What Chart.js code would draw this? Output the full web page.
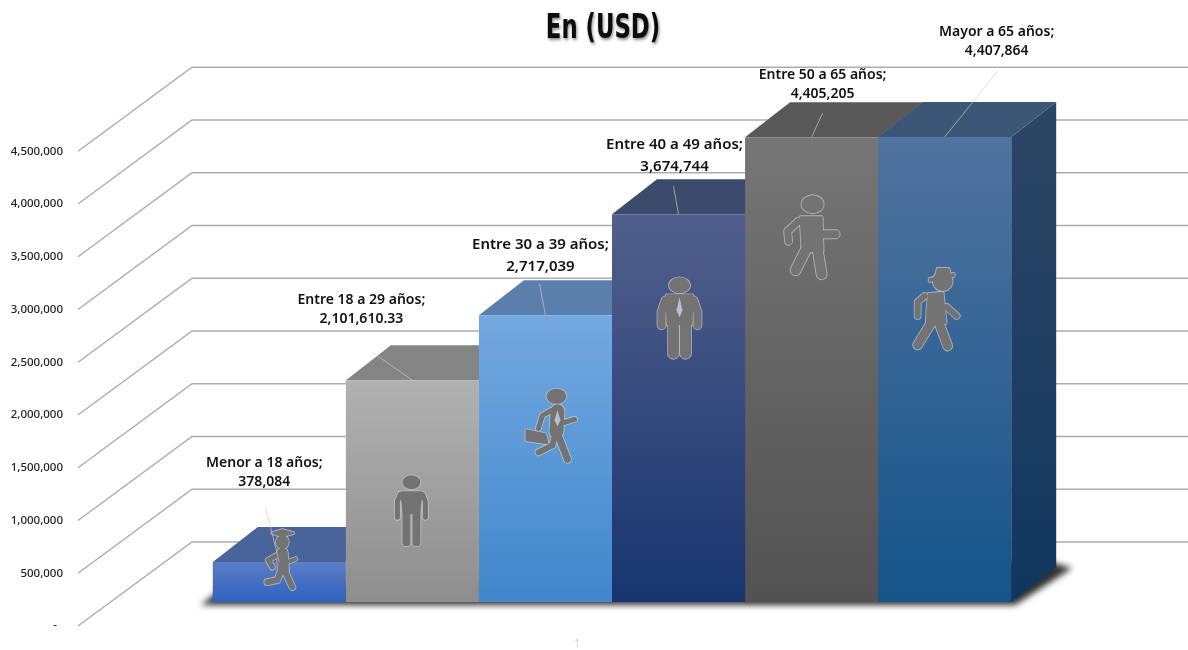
<!DOCTYPE html>
<html lang="es">
<head>
<meta charset="utf-8">
<title>En (USD)</title>
<script src="https://cdn.jsdelivr.net/npm/chart.js@4"></script>
<style>
  html, body { margin: 0; background: #fff; }
  canvas { display: block; }
</style>
</head>
<body>
<canvas id="chart" width="1188" height="650"></canvas>
<script>
const chartTitle = "En (USD)";
const categories = ["1"];
const seriesNames = ["Menor a 18 años", "Entre 18 a 29 años", "Entre 30 a 39 años", "Entre 40 a 49 años", "Entre 50 a 65 años", "Mayor a 65 años"];
const seriesValues = [378084, 2101610.33, 2717039, 3674744, 4405205, 4407864];
const yTickValues = [0, 500000, 1000000, 1500000, 2000000, 2500000, 3000000, 3500000, 4000000, 4500000];
const yTickLabels = ["-  ", "500,000", "1,000,000", "1,500,000", "2,000,000", "2,500,000", "3,000,000", "3,500,000", "4,000,000", "4,500,000"];

// front gradient top/bottom, top face, side top/bottom
const frontTop = ["#5c7dc6", "#b1b1b1", "#74a8e0", "#525f8c", "#767676", "#50739f"];
const frontBottom = ["#2e62bd", "#8e8e8e", "#4087cb", "#18356f", "#525252", "#15548a"];
const topFace = ["#49639b", "#848484", "#5a7fad", "#3c4a6c", "#585858", "#3c5678"];
const sideTop = ["#2c4a86", "#6f6f6f", "#3f6a9e", "#26345c", "#454545", "#2d4665"];
const sideBottom = ["#1e4a92", "#5f5f5f", "#2f6aa8", "#122a58", "#3a3a3a", "#10375f"];

// data label placement, relative to the centre of each bar's top edge
const labelDx = [-15, -51, -5, -4, 11, 52];
const labelDy = [-99, -80, -71, -70, -62, -105];
const labelSize = [14, 14, 15, 15, 14, 14];
const leaderDx = [-14, -40, -6, -5, 11, 53];
const leaderDy = [-55, -28, -32, -28, -24, -66];
const iconDx = [2, -1, 6, 1, 0, -8];
const iconDy = [-2, 130, 110, 104, 100, 172];

const DEPTH_X = 45;
const DEPTH_Y = 35;
const WALL_X = 114;
const WALL_Y = 84;
const WALL_LEFT = 78;
const WALL_MAX = 5000000;
const FLOOR_OFFSET = -227500; // bars stand 24px above the axis zero
const ICON_GREY = "#737373";

// icon shapes: ["e", cx, cy, rx, ry], ["l", width, ...points], ["p", ...points], ["t", ...points] for the tie
const icons = [
  [ // student
    ["e", 1, -18, 6.5, 7], ["p", -9, -27, 1, -30, 12, -27, 1, -24],
    ["l", 11, 1, -7, 2, 10], ["l", 5, -4, -5, -13, 0, -9, 7], ["l", 4, 6, 2, 14, -1],
    ["l", 6, 4, 12, 11, 27], ["l", 6, -1, 12, -4, 20, -14, 22]
  ],
  [ // standing
    ["e", 0, -28, 9, 7],
    ["p", -10, -18, 10, -18, 8, 3, -8, 3],
    ["l", 5, -11, -16, -14, -9, -14, 7], ["l", 5, 11, -16, 14, -9, 14, 7],
    ["l", 8, -5, 3, -5, 32], ["l", 8, 5, 3, 5, 32]
  ],
  [ // briefcase
    ["e", 5, -29, 10, 7.5],
    ["l", 14, 6, -14, 5, 6], ["l", 5, 0, -15, -9, -10, -13, 3], ["l", 5, 13, -3, 23, -6],
    ["p", -25, 5, -6, 9, -4, 18, -25, 15],
    ["l", 6, 4, 8, 1, 20, -13, 27], ["l", 7, 6, 8, 16, 34],
    ["t", 6, -15, 9, -5, 6, 1, 3, -5]
  ],
  [ // suit
    ["e", 0, -33, 10.5, 8],
    ["p", -13, -23, 13, -23, 12, 6, -12, 6],
    ["l", 8, -14, -18, -18, -6, -18, 7], ["l", 8, 14, -18, 18, -6, 18, 7],
    ["l", 11, -6, 3, -6, 35], ["l", 11, 6, 3, 6, 35],
    ["t", 0, -21, 3, -8, 0, -1, -3, -8]
  ],
  [ // walking
    ["e", 1, -33, 11, 9],
    ["p", -11, -20, 10, -20, 11, 14, -9, 14],
    ["l", 7, -13, -16, -24, -6, -23, 4], ["l", 8, 12, -3, 24, -3],
    ["l", 10, 6, 12, 10, 37], ["l", 10, -6, 13, -16, 33]
  ],
  [ // hat
    ["e", 6, -28, 10, 10],
    ["p", -7, -30, 17, -35, 17, -33, -7, -28], ["p", -1, -31, 1, -40, 12, -40, 13, -34],
    ["p", -8, -15, 6, -16, 9, 14, -10, 14],
    ["l", 6, -12, -13, -19, -7, -19, 7], ["l", 6, 10, -2, 20, 7],
    ["l", 9, 2, 13, 11, 37], ["l", 9, -5, 13, -19, 36]
  ]
];

function formatValue(v) {
  return v.toLocaleString("en-US", { maximumFractionDigits: 2 });
}

function frontGradient(context) {
  const i = context.datasetIndex;
  const scale = context.chart.scales.y;
  const top = scale ? scale.getPixelForValue(seriesValues[i]) : NaN;
  const base = scale ? scale.getPixelForValue(0) : NaN;
  // the first option pass runs before layout
  if (!Number.isFinite(top) || !Number.isFinite(base)) return frontTop[i];
  const g = context.chart.ctx.createLinearGradient(0, top, 0, base);
  g.addColorStop(0, frontTop[i]);
  g.addColorStop(1, frontBottom[i]);
  return g;
}

function barBox(chart, i) {
  const bar = chart.getDatasetMeta(i).data[0];
  return { cx: bar.x, left: bar.x - bar.width / 2, right: bar.x + bar.width / 2, top: bar.y, base: bar.base };
}

function poly(ctx, pts) {
  ctx.beginPath();
  ctx.moveTo(pts[0], pts[1]);
  for (let i = 2; i < pts.length; i += 2) ctx.lineTo(pts[i], pts[i + 1]);
  ctx.closePath();
}

function drawWall(chart) {
  const ctx = chart.ctx;
  const wall = chart.scales.yWall;
  ctx.save();
  ctx.strokeStyle = "#adadad";
  ctx.lineWidth = 1.5;
  yTickValues.forEach(v => {
    const y = wall.getPixelForValue(v);
    ctx.beginPath();
    ctx.moveTo(WALL_LEFT, y);
    ctx.lineTo(WALL_LEFT + WALL_X, y - WALL_Y);
    ctx.lineTo(chart.width, y - WALL_Y);
    ctx.stroke();
  });
  ctx.restore();
}

function drawFloorShadow(chart) {
  const ctx = chart.ctx;
  const first = barBox(chart, 0);
  const last = barBox(chart, seriesValues.length - 1);
  ctx.save();
  ctx.filter = "blur(3px)";
  ctx.fillStyle = "rgba(25,25,25,0.9)";
  poly(ctx, [
    first.left - 12, first.base + 3,
    last.right + 4, last.base + 3,
    last.right + DEPTH_X + 16, last.base - DEPTH_Y + 1,
    last.right + DEPTH_X - 10, last.base - DEPTH_Y - 6,
    first.left + 12, first.base - 16
  ]);
  ctx.fill();
  ctx.restore();
}

function drawFaces(chart) {
  const ctx = chart.ctx;
  seriesValues.forEach((v, i) => {
    const b = barBox(chart, i);
    const side = ctx.createLinearGradient(0, b.top - DEPTH_Y, 0, b.base);
    side.addColorStop(0, sideTop[i]);
    side.addColorStop(1, sideBottom[i]);
    ctx.fillStyle = side;
    poly(ctx, [b.right, b.top, b.right + DEPTH_X, b.top - DEPTH_Y, b.right + DEPTH_X, b.base - DEPTH_Y, b.right, b.base]);
    ctx.fill();
    ctx.fillStyle = topFace[i];
    poly(ctx, [b.left, b.top, b.left + DEPTH_X, b.top - DEPTH_Y, b.right + DEPTH_X, b.top - DEPTH_Y, b.right, b.top]);
    ctx.fill();
  });
}

function traceIcon(ctx, shapes, extra, colour) {
  ctx.strokeStyle = colour;
  ctx.fillStyle = colour;
  ctx.lineCap = "round";
  ctx.lineJoin = "round";
  shapes.forEach(s => {
    if (s[0] === "e") {
      ctx.beginPath();
      ctx.ellipse(s[1], s[2], s[3] + extra, s[4] + extra, 0, 0, Math.PI * 2);
      ctx.fill();
    } else if (s[0] === "l") {
      ctx.lineWidth = s[1] + extra * 2;
      ctx.beginPath();
      ctx.moveTo(s[2], s[3]);
      for (let k = 4; k < s.length; k += 2) ctx.lineTo(s[k], s[k + 1]);
      ctx.stroke();
    } else if (s[0] === "p") {
      poly(ctx, s.slice(1));
      ctx.lineWidth = 2 + extra * 2;
      ctx.fill();
      ctx.stroke();
    }
  });
}

function drawIcons(chart) {
  const ctx = chart.ctx;
  icons.forEach((shapes, i) => {
    const b = barBox(chart, i);
    ctx.save();
    ctx.translate(b.cx + iconDx[i], b.top + iconDy[i]);
    traceIcon(ctx, shapes, 0.9, "rgba(205,205,205,0.7)");
    traceIcon(ctx, shapes, 0, ICON_GREY);
    shapes.filter(s => s[0] === "t").forEach(s => {
      ctx.fillStyle = "rgba(205,215,235,0.75)";
      poly(ctx, s.slice(1));
      ctx.fill();
    });
    ctx.restore();
  });
}

function drawLabels(chart) {
  const ctx = chart.ctx;
  seriesValues.forEach((v, i) => {
    const b = barBox(chart, i);
    ctx.save();
    ctx.strokeStyle = "rgba(205,205,205,0.65)";
    ctx.lineWidth = 1;
    ctx.beginPath();
    ctx.moveTo(b.cx + leaderDx[i], b.top + leaderDy[i]);
    ctx.lineTo(b.cx, b.top);
    ctx.stroke();

    ctx.fillStyle = "#111";
    ctx.textAlign = "center";
    ctx.textBaseline = "middle";
    ctx.font = `600 ${labelSize[i]}px "Noto Sans"`;
    ctx.fillText(`${seriesNames[i]};`, b.cx + labelDx[i], b.top + labelDy[i]);
    ctx.fillText(formatValue(v), b.cx + labelDx[i], b.top + labelDy[i] + (labelSize[i] > 14 ? 22 : 19));
    ctx.restore();
  });
}

function drawTitle(chart) {
  const ctx = chart.ctx;
  ctx.save();
  ctx.translate(603, 38);
  ctx.scale(0.67, 1);
  ctx.font = 'bold 34px "DejaVu Sans"';
  ctx.textAlign = "center";
  ctx.textBaseline = "alphabetic";
  ctx.fillStyle = "#0c0c0c";
  ctx.shadowColor = "rgba(0,0,0,0.45)";
  ctx.shadowBlur = 3;
  ctx.shadowOffsetX = 1;
  ctx.shadowOffsetY = 2;
  ctx.fillText(chartTitle, 0, 0);
  ctx.restore();
}

const depthPlugin = {
  id: "depth",
  beforeDatasetsDraw(chart) {
    drawWall(chart);
    drawFloorShadow(chart);
    drawFaces(chart);
  },
  afterDatasetsDraw(chart) {
    drawIcons(chart);
    drawLabels(chart);
    drawTitle(chart);
  }
};

new Chart(document.getElementById("chart"), {
  type: "bar",
  data: {
    labels: categories,
    datasets: seriesNames.map((name, i) => ({
      label: name,
      data: [seriesValues[i]],
      backgroundColor: frontGradient,
      borderWidth: 0,
      yAxisID: "y"
    }))
  },
  plugins: [depthPlugin],
  options: {
    responsive: false,
    animation: false,
    layout: { padding: { top: 98.5, right: 77 } },
    datasets: { bar: { barPercentage: 1, categoryPercentage: 0.8 } },
    plugins: {
      legend: { display: false },
      title: { display: false },
      tooltip: { enabled: false }
    },
    scales: {
      x: {
        grid: { display: false, drawTicks: false },
        border: { display: false },
        ticks: { color: "#c9c9c9", font: { family: "Noto Sans", size: 10 }, labelOffset: -35, padding: 12 },
        afterFit(scale) { scale.height = 24; }
      },
      y: {
        display: false,
        min: FLOOR_OFFSET,
        max: WALL_MAX + FLOOR_OFFSET
      },
      yWall: {
        position: "left",
        min: 0,
        max: WALL_MAX,
        grid: { display: false, drawTicks: false },
        border: { display: false },
        afterBuildTicks(scale) { scale.ticks = yTickValues.map(value => ({ value })); },
        ticks: {
          color: "#222",
          font: { family: "Noto Sans", size: 11.5, weight: "500" },
          padding: 50,
          callback: (value, index) => yTickLabels[index]
        },
        afterFit(scale) {
          scale.width = 113;
          // tick padding also counts as vertical padding, which shrinks the plot
          scale.paddingTop = 0;
          scale.paddingBottom = 0;
        }
      }
    }
  }
});
</script>
</body>
</html>
